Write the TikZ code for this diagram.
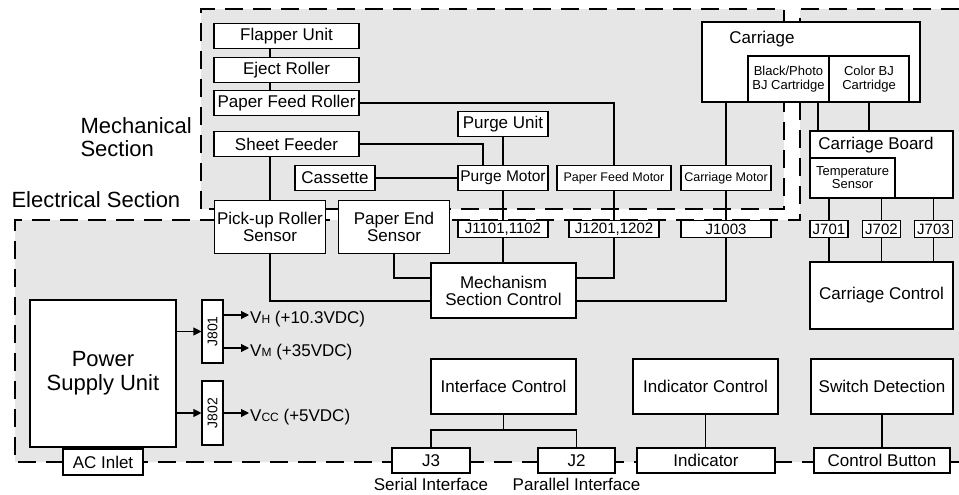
\documentclass[tikz,border=0pt]{standalone}
\usepackage{fontspec}
\setmainfont{Liberation Sans}
\usepackage{graphicx}
\usetikzlibrary{arrows.meta,positioning,calc}
\definecolor{regiongray}{RGB}{230,230,230}
\newcommand{\fsz}[1]{\fontsize{#1}{#1}\selectfont}

\begin{document}
\begin{tikzpicture}[x=1pt,y=-1pt,
  box/.style={draw, fill=white, line width=1.1pt, inner sep=0pt, align=center, font=\fsz{17}},
  wire/.style={line width=1.1pt},
  border/.style={line width=1.2pt, dash pattern=on 18pt off 10pt},
  arr/.style={line width=1.1pt, -{Triangle[length=8pt,width=8pt]}}]
  \useasboundingbox (0,0) rectangle (959,495);
  % the two sections, grey with dashed outline
  \fill[regiongray] (201,9) rectangle (784,209);
  \fill[regiongray] (15,220) -- (800,220) -- (800,9) -- (959,9) -- (959,462) -- (15,462) -- cycle;
  \draw[border] (201,209) -- (201,9) -- (784,9) -- (784,209) -- cycle;
  \draw[border] (959,9) -- (800,9) -- (800,220) -- (15,220) -- (15,462) -- (959,462);
  \node[anchor=west, align=left, font=\fontsize{22}{23}\selectfont] (mechlbl) at (77,137) {Mechanical\\Section};
  \node[anchor=base west, font=\fsz{22}] (eleclbl) at (8,207) {Electrical Section};

  % paper path
  \node[box, minimum width=145pt, minimum height=25pt] (flapper) at (286.5,36) {Flapper Unit};
  \node[box, minimum width=145pt, minimum height=25pt] (eject) at (286.5,70) {Eject Roller};
  \node[box, minimum width=145pt, minimum height=25pt] (pfroller) at (286.5,103) {Paper Feed Roller};
  \node[box, minimum width=145pt, minimum height=25pt] (sheetfeeder) at (286.5,144) {Sheet Feeder};
  \node[box, minimum width=80pt, minimum height=25pt] (cassette) at (335,178) {Cassette};
  \node[box, minimum width=111pt, minimum height=53pt] (pickup) at (270,227) {Pick-up Roller\\Sensor};
  \node[box, minimum width=111pt, minimum height=53pt] (paperend) at (394,227) {Paper End\\Sensor};

  % motors and connectors
  \node[box, minimum width=90pt, minimum height=25pt] (purgeunit) at (503,124) {Purge Unit};
  \node[box, minimum width=90pt, minimum height=25pt, font=\fsz{15.5}] (purgemotor) at (503,178) {Purge Motor};
  \node[box, minimum width=114pt, minimum height=25pt, font=\fsz{12.5}] (pfmotor) at (614,178) {Paper Feed Motor};
  \node[box, minimum width=90pt, minimum height=25pt, font=\fsz{12.5}] (cmotor) at (726,178) {Carriage Motor};
  \node[box, minimum width=90pt, minimum height=17pt, font=\fsz{15}] (j1101) at (503,229) {J1101,1102};
  \node[box, minimum width=90pt, minimum height=17pt, font=\fsz{15}] (j1201) at (614,229) {J1201,1202};
  \node[box, minimum width=90pt, minimum height=17pt, font=\fsz{15}] (j1003) at (726,229) {J1003};
  \node[box, minimum width=145pt, minimum height=55pt] (msc) at (503.5,290.5) {Mechanism\\Section Control};

  % carriage side
  \node[box, minimum width=218pt, minimum height=80pt] (carriage) at (811,62) {};
  \node[font=\fsz{17}] (carriagetxt) at (762,39) {Carriage};
  \node[box, minimum width=81pt, minimum height=46pt, font=\fontsize{13}{14}\selectfont] (bkcart) at (788.5,79) {Black/Photo\\BJ Cartridge};
  \node[box, minimum width=80pt, minimum height=46pt, font=\fontsize{13}{14}\selectfont] (colcart) at (869,79) {Color BJ\\Cartridge};
  \node[box, minimum width=143pt, minimum height=67pt] (cboard) at (881.5,164.5) {};
  \node[font=\fsz{17}] (cboardtxt) at (876,145) {Carriage Board};
  \node[box, minimum width=85pt, minimum height=40pt, font=\fontsize{13}{13}\selectfont] (tempsensor) at (852.5,178) {Temperature\\Sensor};
  \foreach \j/\x in {701/829, 702/881.5, 703/933.5}{
    \node[box, minimum width=38pt, minimum height=17pt, font=\fsz{15}] (j\j) at (\x,229) {J\j};
  }
  \node[box, minimum width=143pt, minimum height=67pt] (ccontrol) at (881.5,295.5) {Carriage Control};

  % power supply
  \node[box, minimum width=146pt, minimum height=147pt, font=\fontsize{22}{24}\selectfont] (psu) at (103,373.5) {Power\\Supply Unit};
  \node[box, minimum width=80pt, minimum height=26pt] (acinlet) at (103,462) {AC Inlet};
  \node[box, minimum width=21pt, minimum height=63pt, font=\fsz{14}] (j801) at (212.5,331.5) {\rotatebox{90}{J801}};
  \node[box, minimum width=21pt, minimum height=64pt, font=\fsz{14}] (j802) at (212.5,413) {\rotatebox{90}{J802}};
  \node[anchor=base west, inner sep=1pt, font=\fsz{17}] (vh) at (249,323) {V{\fsz{12}H} (+10.3VDC)};
  \node[anchor=base west, inner sep=1pt, font=\fsz{17}] (vm) at (249,356) {V{\fsz{12}M} (+35VDC)};
  \node[anchor=base west, inner sep=1pt, font=\fsz{17}] (vcc) at (249,421) {V{\fsz{12}CC} (+5VDC)};

  % lower controls
  \node[box, minimum width=145pt, minimum height=55pt] (ifcontrol) at (503.5,386.5) {Interface Control};
  \node[box, minimum width=145pt, minimum height=55pt] (indcontrol) at (705.5,386.5) {Indicator Control};
  \node[box, minimum width=142pt, minimum height=55pt] (swdetect) at (882,386.5) {Switch Detection};
  \node[box, minimum width=78pt, minimum height=25pt] (j3) at (431,460.5) {J3};
  \node[box, minimum width=77pt, minimum height=25pt] (j2) at (576.5,460.5) {J2};
  \node[box, minimum width=138pt, minimum height=25pt] (indicator) at (706,460.5) {Indicator};
  \node[box, minimum width=136pt, minimum height=25pt] (cbutton) at (882,460.5) {Control Button};
  \node[below=4pt of j3, inner sep=0pt, font=\fsz{17}] (serial) {Serial Interface};
  \node[below=4pt of j2, inner sep=0pt, font=\fsz{17}] (parallel) {Parallel Interface};

  % wiring
  \draw[wire] (flapper.south -| pickup) -- (eject.north -| pickup);
  \draw[wire] (eject.south -| pickup) -- (pfroller.north -| pickup);
  \draw[wire] (sheetfeeder.south -| pickup) -- (pickup.north);
  \draw[wire] (pfroller.east) -| (pfmotor.north);
  \draw[wire] (sheetfeeder.east) -| ([xshift=-20pt]purgemotor.north);
  \draw[wire] (purgeunit) -- (purgemotor);
  \draw[wire] (cassette) -- (purgemotor);
  \draw[wire] (purgemotor) -- (j1101);
  \draw[wire] (j1101.south) -- (j1101.south |- msc.north);
  \draw[wire] (pfmotor) -- (j1201);
  \draw[wire] (j1201.south) |- ([yshift=12.5pt]msc.east);
  \draw[wire] (cmotor.north) -- (cmotor.north |- carriage.south);
  \draw[wire] (cmotor) -- (j1003);
  \draw[wire] (j1003.south) |- ([yshift=-10.5pt]msc.east);
  \draw[wire] (pickup.south) |- ([yshift=-10.5pt]msc.west);
  \draw[wire] (paperend.south) |- ([yshift=12.5pt]msc.west);
  \coordinate (bkdrop) at ([xshift=29.5pt]bkcart.south);
  \draw[wire] (bkdrop) -- (bkdrop |- cboard.north);
  \draw[wire] (colcart.south) -- (colcart.south |- cboard.north);
  \foreach \j in {j701,j702,j703}{
    \draw[wire] (\j.north |- cboard.south) -- (\j.north);
    \draw[wire] (\j.south) -- (\j.south |- ccontrol.north);
  }
  \coordinate (ifsplit) at (503.5,430);
  \draw[wire] (ifcontrol.south) -- (ifsplit);
  \draw[wire] (j3.north) |- (ifsplit) -| (j2.north);
  \draw[wire] (indcontrol.south) -- (indcontrol.south |- indicator.north);
  \draw[wire] (swdetect.south) -- (swdetect.south |- cbutton.north);

  % supply outputs
  \draw[arr] (psu.east |- j801.west) -- (j801.west);
  \draw[arr] (psu.east |- j802.west) -- (j802.west);
  \coordinate (vhout) at ([yshift=16.5pt]j801.east);
  \coordinate (vmout) at ([yshift=-16.5pt]j801.east);
  \draw[arr] (vhout) -- (vhout -| vh.west);
  \draw[arr] (vmout) -- (vmout -| vm.west);
  \draw[arr] (j802.east) -- (j802.east -| vcc.west);
\end{tikzpicture}
\end{document}
